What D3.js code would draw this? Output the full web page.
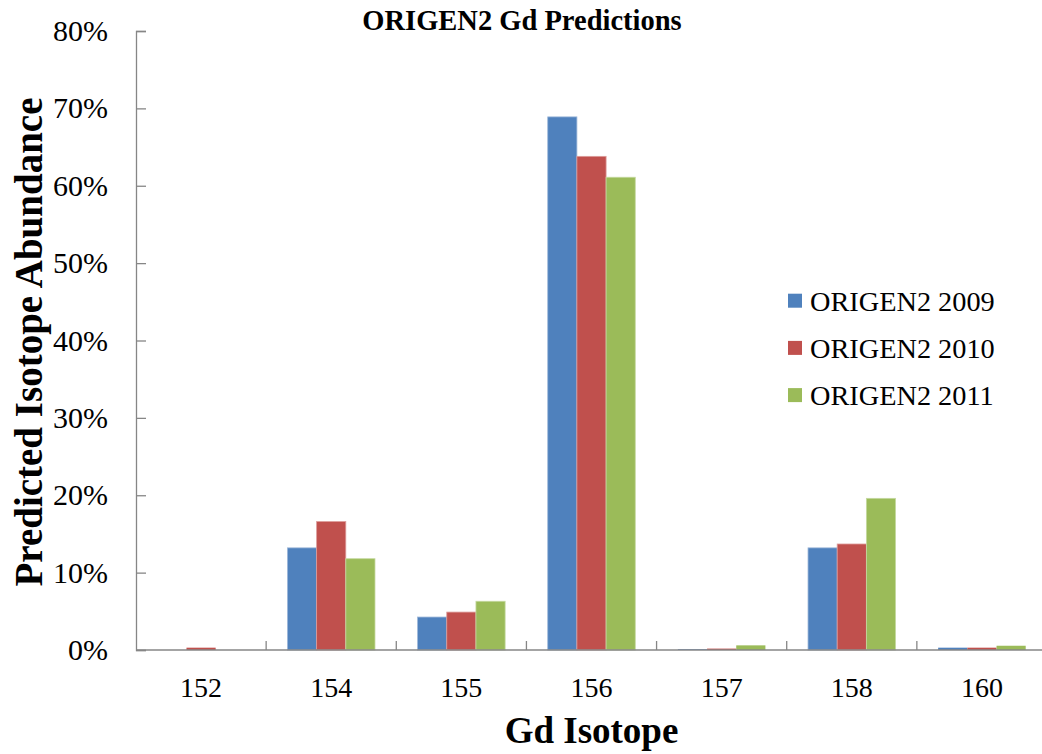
<!DOCTYPE html>
<html>
<head>
<meta charset="utf-8">
<script src="https://cdn.jsdelivr.net/npm/d3@7"></script>
<style>
  body { margin: 0; background: #fff; }
  svg { display: block; overflow: hidden; }
  text { font-family: "Liberation Serif", "Times New Roman", serif; fill: #000; }
</style>
</head>
<body>
<svg id="chart" width="1042" height="754"></svg>
<script>
// isotopes on the x axis
var isotopes = ["152", "154", "155", "156", "157", "158", "160"];
var seriesNames = ["ORIGEN2 2009", "ORIGEN2 2010", "ORIGEN2 2011"];

// predicted abundance, fraction of total
var origen2009 = [0.000, 0.132, 0.0426, 0.689, 0.001, 0.132, 0.003];
var origen2010 = [0.003, 0.166, 0.049, 0.638, 0.0018, 0.137, 0.003];
var origen2011 = [0.000, 0.118, 0.063, 0.611, 0.006, 0.196, 0.0055];

var yTicks = [0, 0.1, 0.2, 0.3, 0.4, 0.5, 0.6, 0.7, 0.8];
var colors = ["#4F81BD", "#C0504D", "#9BBB59"];
var edges = ["#9db7d9", "#dd9c9a", "#c5d9a0"];

var allSeries = [origen2009, origen2010, origen2011];

var svg = d3.select("#chart");
var plotLeft = 136, plotRight = 1047, plotTop = 31, plotBottom = 650;

var x0 = d3.scaleBand().domain(isotopes).range([plotLeft, plotRight]).paddingInner(0).paddingOuter(0);
var x1 = d3.scaleBand().domain(seriesNames).range([0, x0.bandwidth()]).paddingInner(0).paddingOuter(0.73);
var y = d3.scaleLinear().domain([0, 0.8]).range([plotBottom, plotTop]);

// bars
var groups = svg.append("g").selectAll("g")
  .data(isotopes)
  .enter().append("g")
  .attr("transform", d => `translate(${x0(d)},0)`);

groups.selectAll("rect")
  .data((d, i) => allSeries.map((s, j) => ({name: seriesNames[j], value: s[i], j: j})))
  .enter().append("rect")
  .attr("x", d => x1(d.name))
  .attr("width", x1.bandwidth())
  .attr("y", d => y(d.value))
  .attr("height", d => plotBottom - y(d.value))
  .attr("fill", d => colors[d.j])
  .attr("stroke", d => d.value > 0.01 ? edges[d.j] : "none")
  .attr("stroke-width", 0.8);

// y axis (ticks inside, to the right)
var yAxis = svg.append("g")
  .attr("transform", `translate(${plotLeft},0)`)
  .call(d3.axisRight(y).tickValues(yTicks).tickSize(10).tickFormat(""));
yAxis.select(".domain").attr("stroke", "#868686").attr("stroke-width", 1.3);
yAxis.selectAll(".tick line").attr("stroke", "#868686").attr("stroke-width", 1.3);

svg.append("g").selectAll("text")
  .data(yTicks)
  .enter().append("text")
  .attr("x", 108)
  .attr("y", d => y(d) + 10)
  .attr("text-anchor", "end")
  .attr("font-size", 30)
  .text(d => d3.format(".0%")(d));

// x axis, ticks at category boundaries pointing up
var xAxis = svg.append("g");
xAxis.append("line")
  .attr("x1", plotLeft).attr("x2", plotRight)
  .attr("y1", plotBottom).attr("y2", plotBottom)
  .attr("stroke", "#868686").attr("stroke-width", 1.5);
xAxis.selectAll(".sep")
  .data(isotopes.slice(1))
  .enter().append("line")
  .attr("x1", d => x0(d)).attr("x2", d => x0(d))
  .attr("y1", plotBottom).attr("y2", plotBottom - 9)
  .attr("stroke", "#868686").attr("stroke-width", 1.3);

xAxis.selectAll(".lbl")
  .data(isotopes)
  .enter().append("text")
  .attr("x", d => x0(d) + x0.bandwidth() / 2)
  .attr("y", 697)
  .attr("text-anchor", "middle")
  .attr("font-size", 28)
  .text(d => d);

// titles
svg.append("text")
  .attr("x", 522).attr("y", 30)
  .attr("text-anchor", "middle")
  .attr("font-size", 28.5)
  .attr("font-weight", "bold")
  .text("ORIGEN2 Gd Predictions");

svg.append("text")
  .attr("x", (plotLeft + plotRight) / 2).attr("y", 743)
  .attr("text-anchor", "middle")
  .attr("font-size", 37)
  .attr("font-weight", "bold")
  .text("Gd Isotope");

svg.append("text")
  .attr("transform", "translate(42,342) rotate(-90)")
  .attr("text-anchor", "middle")
  .attr("font-size", 39)
  .attr("font-weight", "bold")
  .text("Predicted Isotope Abundance");

// legend
var legend = svg.append("g").selectAll("g")
  .data(seriesNames)
  .enter().append("g")
  .attr("transform", (d, i) => `translate(788,${300.7 + i * 47.2})`);

legend.append("rect")
  .attr("x", 0).attr("y", -7)
  .attr("width", 14).attr("height", 14)
  .attr("fill", (d, i) => colors[i]);

legend.append("text")
  .attr("x", 22).attr("y", 10)
  .attr("font-size", 28.3)
  .text(d => d);
</script>
</body>
</html>
